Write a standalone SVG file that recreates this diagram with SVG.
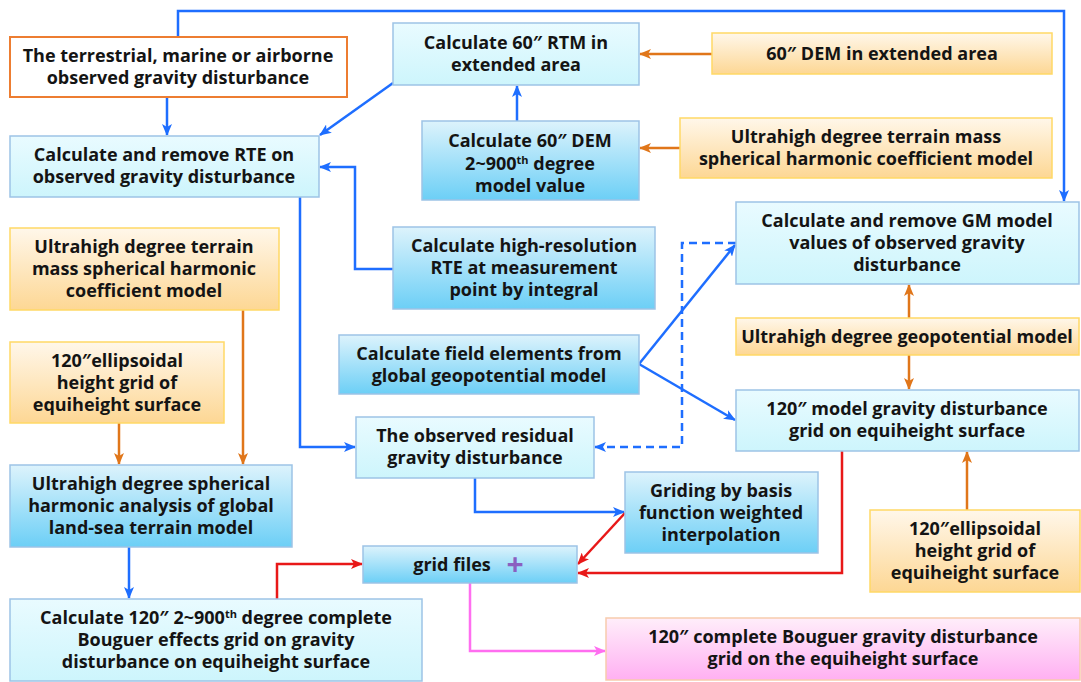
<svg xmlns="http://www.w3.org/2000/svg" width="1081" height="682" viewBox="0 0 1081 682">
<defs>
<linearGradient id="gCyan" x1="0" y1="0" x2="0" y2="1"><stop offset="0" stop-color="#E9FBFF"/><stop offset="1" stop-color="#CDF5FC"/></linearGradient>
<linearGradient id="gBlue" x1="0" y1="0" x2="0" y2="1"><stop offset="0" stop-color="#DDF3FC"/><stop offset="1" stop-color="#6CCFF6"/></linearGradient>
<linearGradient id="gOrange" x1="0" y1="0" x2="0" y2="1"><stop offset="0" stop-color="#FFF7EA"/><stop offset="1" stop-color="#FDD794"/></linearGradient>
<linearGradient id="gPink" x1="0" y1="0" x2="0" y2="1"><stop offset="0" stop-color="#FFEEFA"/><stop offset="1" stop-color="#FFB0F2"/></linearGradient>
<marker id="aBlue" markerUnits="userSpaceOnUse" markerWidth="12" markerHeight="10" refX="11" refY="5" orient="auto"><path d="M0,0 L12,5 L0,10 L3,5 Z" fill="#1E6EFF"/></marker>
<marker id="aOrange" markerUnits="userSpaceOnUse" markerWidth="12" markerHeight="10" refX="11" refY="5" orient="auto"><path d="M0,0 L12,5 L0,10 L3,5 Z" fill="#E0761A"/></marker>
<marker id="aRed" markerUnits="userSpaceOnUse" markerWidth="12" markerHeight="10" refX="11" refY="5" orient="auto"><path d="M0,0 L12,5 L0,10 L3,5 Z" fill="#E81818"/></marker>
<marker id="aPink" markerUnits="userSpaceOnUse" markerWidth="12" markerHeight="10" refX="11" refY="5" orient="auto"><path d="M0,0 L12,5 L0,10 L3,5 Z" fill="#FF6EF0"/></marker>
</defs>
<style>
text{font-family:"Open Sans","Noto Sans","Liberation Sans",sans-serif;font-weight:bold;font-size:18px;fill:#141414;text-anchor:middle}
.cyan{fill:url(#gCyan);stroke:#9DC3E6;stroke-width:1.5}
.blue{fill:url(#gBlue);stroke:#9DC3E6;stroke-width:1.5}
.orange{fill:url(#gOrange);stroke:#FFD966;stroke-width:1.5}
.pink{fill:url(#gPink);stroke:#F8CBAD;stroke-width:1.5}
.obs{fill:#FFFFFF;stroke:#ED7D31;stroke-width:2}
.c{fill:none;stroke-width:2.5}
.cb{stroke:#1E6EFF;marker-end:url(#aBlue)}
.co{stroke:#E0761A;marker-end:url(#aOrange)}
.cr{stroke:#E81818;marker-end:url(#aRed)}
.cp{stroke:#FF6EF0;marker-end:url(#aPink)}
.dash{stroke-dasharray:8,5}
.sup{font-size:11px}
</style>
<rect width="1081" height="682" fill="#FFFFFF"/>
<g id="connectors">
<path class="c cb" d="M178,37 V11 H1064 V201"/>
<path class="c cb" d="M167,97 V135"/>
<path class="c cb" d="M393,83 L320,135"/>
<path class="c cb" d="M517,121 V86"/>
<path class="c cb" d="M393,269 H355 V167 H320"/>
<path class="c cb" d="M300,197 V447 H355"/>
<path class="c cb" d="M639,364 L735,245"/>
<path class="c cb" d="M639,364 L735,420"/>
<path class="c cb dash" d="M736,243 H682 V447 H595"/>
<path class="c cb" d="M475,478 V512 H624"/>
<path class="c cb" d="M129,547 V598"/>
<path class="c co" d="M712,54 H640"/>
<path class="c co" d="M680,148 H640"/>
<path class="c co" d="M119,423 V464"/>
<path class="c co" d="M243,310 V464"/>
<path class="c co" d="M909,318 V285"/>
<path class="c co" d="M909,355 V389"/>
<path class="c co" d="M967,510 V452"/>
<path class="c cr" d="M625,513 L578,564"/>
<path class="c cr" d="M842,451 V573 H578"/>
<path class="c cr" d="M277,599 V564 H362"/>
<path class="c cp" d="M470,583 V651 H605"/>
</g>
<g id="n1"><rect class="obs" x="10" y="37" width="337" height="60"/><text x="178" y="62">The terrestrial, marine or airborne</text><text x="178" y="84">observed gravity disturbance</text></g>
<g id="n2"><rect class="cyan" x="10" y="136" width="309" height="61"/><text x="164" y="161">Calculate and remove RTE on</text><text x="164" y="183">observed gravity disturbance</text></g>
<g id="n3"><rect class="cyan" x="393" y="23" width="246" height="62"/><text x="516" y="49">Calculate 60″ RTM in</text><text x="516" y="71">extended area</text></g>
<g id="n4"><rect class="blue" x="422" y="121" width="217" height="79"/><text x="530" y="147">Calculate 60″ DEM</text><text x="530" y="170">2~900<tspan class="sup" dy="-6">th</tspan><tspan dy="6"> degree</tspan></text><text x="530" y="192">model value</text></g>
<g id="n5"><rect class="orange" x="712" y="33" width="340" height="41"/><text x="882" y="60">60″ DEM in extended area</text></g>
<g id="n6"><rect class="orange" x="680" y="118" width="372" height="60"/><text x="866" y="143">Ultrahigh degree terrain mass</text><text x="866" y="165">spherical harmonic coefficient model</text></g>
<g id="n7"><rect class="orange" x="10" y="228" width="269" height="82"/><text x="144" y="253">Ultrahigh degree terrain</text><text x="144" y="275">mass spherical harmonic</text><text x="144" y="297">coefficient model</text></g>
<g id="n8"><rect class="blue" x="393" y="227" width="262" height="82"/><text x="524" y="252">Calculate high-resolution</text><text x="524" y="274">RTE at measurement</text><text x="524" y="296">point by integral</text></g>
<g id="n9"><rect class="cyan" x="736" y="202" width="343" height="82"/><text x="907" y="227">Calculate and remove GM model</text><text x="907" y="249">values of observed gravity</text><text x="907" y="271">disturbance</text></g>
<g id="n10"><rect class="orange" x="10" y="342" width="214" height="81"/><text x="117" y="367">120″ellipsoidal</text><text x="117" y="389">height grid of</text><text x="117" y="411">equiheight surface</text></g>
<g id="n11"><rect class="blue" x="339" y="335" width="300" height="59"/><text x="489" y="360">Calculate field elements from</text><text x="489" y="382">global geopotential model</text></g>
<g id="n12"><rect class="orange" x="736" y="318" width="343" height="37"/><text x="907" y="343">Ultrahigh degree geopotential model</text></g>
<g id="n13"><rect class="cyan" x="736" y="390" width="343" height="61"/><text x="907" y="415">120″ model gravity disturbance</text><text x="907" y="437">grid on equiheight surface</text></g>
<g id="n14"><rect class="cyan" x="356" y="417" width="238" height="61"/><text x="475" y="442">The observed residual</text><text x="475" y="464">gravity disturbance</text></g>
<g id="n15"><rect class="blue" x="10" y="465" width="282" height="82"/><text x="151" y="490">Ultrahigh degree spherical</text><text x="151" y="512">harmonic analysis of global</text><text x="151" y="534">land-sea terrain model</text></g>
<g id="n16"><rect class="blue" x="625" y="472" width="193" height="81"/><text x="721" y="497">Griding by basis</text><text x="721" y="519">function weighted</text><text x="721" y="541">interpolation</text></g>
<g id="n17"><rect class="blue" x="363" y="546" width="214" height="37"/><text x="452" y="571">grid files</text><text x="515" y="575" style="fill:#8A5FC0;font-size:30px">+</text></g>
<g id="n18"><rect class="orange" x="870" y="510" width="210" height="82"/><text x="975" y="535">120″ellipsoidal</text><text x="975" y="557">height grid of</text><text x="975" y="579">equiheight surface</text></g>
<g id="n19"><rect class="cyan" x="10" y="599" width="412" height="82"/><text x="216" y="624">Calculate 120″ 2~900<tspan class="sup" dy="-6">th</tspan><tspan dy="6"> degree complete</tspan></text><text x="216" y="646">Bouguer effects grid on gravity</text><text x="216" y="668">disturbance on equiheight surface</text></g>
<g id="n20"><rect class="pink" x="606" y="618" width="474" height="62"/><text x="843" y="643">120″ complete Bouguer gravity disturbance</text><text x="843" y="665">grid on the equiheight surface</text></g>
</svg>
